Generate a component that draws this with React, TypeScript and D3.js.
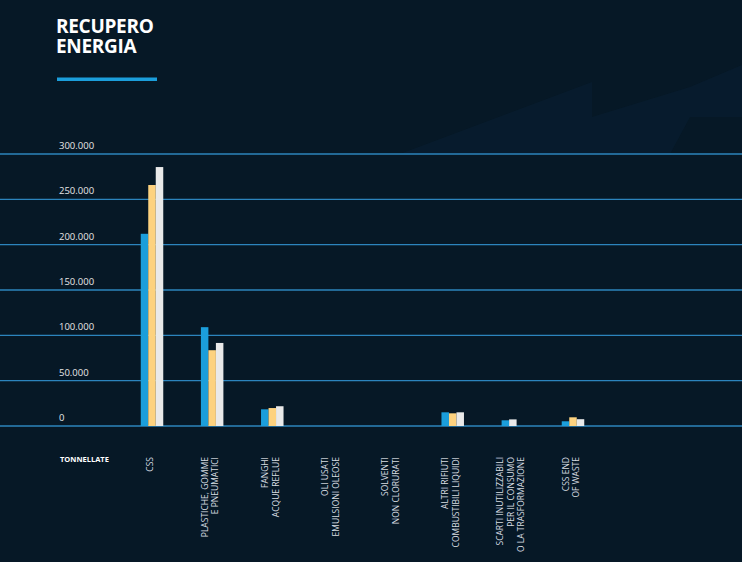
import { useEffect, useRef } from "react";
import * as d3 from "d3";

const CATEGORIES = [
  ["CSS"],
  ["PLASTICHE, GOMME", "E PNEUMATICI"],
  ["FANGHI", "ACQUE REFLUE"],
  ["OLI USATI", "EMULSIONI OLEOSE"],
  ["SOLVENTI", "NON CLORURATI"],
  ["ALTRI RIFIUTI", "COMBUSTIBILI LIQUIDI"],
  ["SCARTI INUTILIZZABILI", "PER IL CONSUMO", "O LA TRASFORMAZIONE"],
  ["CSS END", "OF WASTE"],
];

// tonnes per year, null = not reported
const SERIES_A: (number | null)[] = [212000, 109000, 18400, 0, 0, 15100, 6300, 5200];
const SERIES_B: (number | null)[] = [265800, 83600, 19800, 0, 0, 14000, null, 9600];
const SERIES_C: (number | null)[] = [285600, 91600, 21800, 0, 0, 15100, 7300, 7500];

const SERIES = [
  { key: "a", values: SERIES_A, color: "#1b9edb" },
  { key: "b", values: SERIES_B, color: "#fdd27f" },
  { key: "c", values: SERIES_C, color: "#e9e9e9" },
];

const Y_TICKS = [0, 50000, 100000, 150000, 200000, 250000, 300000];
const TITLE = ["RECUPERO", "ENERGIA"];

const W = 742, H = 562;
const BG = "#061826";

export default function App() {
  const svgRef = useRef<SVGSVGElement>(null);

  useEffect(() => {
    const svg = d3.select(svgRef.current);
    svg.selectAll("*").remove();

    svg.append("rect").attr("width", W).attr("height", H).attr("fill", BG);

    // faint backdrop shape, upper right
    svg.append("path")
      .attr("d", "M400,154 L592,82 L592,117 L690,87 L742,65 L742,117 L690,117 L670,154 Z")
      .attr("fill", "#0a1f33").attr("opacity", 0.55);

    // title, two lines in one text block
    const title = svg.append("text").attr("font-family", "'Open Sans', sans-serif").attr("font-weight", 700)
      .attr("fill", "#ffffff").attr("font-size", 19).attr("letter-spacing", -0.3);
    TITLE.forEach((l, i) => title.append("tspan").attr("x", 56).attr("y", 33 + i * 20).text(l));
    svg.append("rect").attr("x", 57).attr("y", 77.5).attr("width", 100).attr("height", 3.5).attr("fill", "#1b9edb");

    const y = d3.scaleLinear().domain([0, 300000]).range([426, 154]);
    const x = d3.scalePoint<number>().domain(CATEGORIES.map((_, i) => i)).range([152, 573]);
    const fmt = (v: number) => d3.format(",")(v).replace(/,/g, ".");

    // gridlines + tick labels
    const grid = svg.append("g");
    Y_TICKS.forEach(v => {
      grid.append("line").attr("x1", 0).attr("x2", W).attr("y1", y(v)).attr("y2", y(v))
        .attr("stroke", "#2c84bd").attr("stroke-width", 1.3);
      grid.append("text").attr("x", 59).attr("y", y(v) - 5)
        .attr("font-family", "'Open Sans', sans-serif").attr("font-size", 9.5)
        .attr("fill", "#e6e6e6").text(fmt(v));
    });

    // bars: series missing in a group are skipped and the rest packed together
    const barW = 7.5;
    const bars = svg.append("g");
    CATEGORIES.forEach((_, ci) => {
      const present = SERIES.filter(s => s.values[ci] !== null);
      const inner = d3.scaleBand<string>().domain(present.map(s => s.key))
        .range([-(barW * 3) / 2, -(barW * 3) / 2 + barW * present.length]);
      present.forEach(s => {
        const v = s.values[ci] as number;
        if (v <= 0) return;
        bars.append("rect")
          .attr("x", (x(ci) as number) + (inner(s.key) as number))
          .attr("y", y(v)).attr("width", inner.bandwidth()).attr("height", y(0) - y(v))
          .attr("fill", s.color);
      });
    });

    // category labels, rotated
    const labels = svg.append("g").attr("font-family", "'Liberation Sans Narrow', 'Open Sans', sans-serif")
      .attr("font-size", 8.5).attr("fill", "#d8dde2");
    CATEGORIES.forEach((lines, ci) => {
      const t = labels.append("text")
        .attr("transform", `translate(${(x(ci) as number) + 1},457) rotate(-90)`)
        .attr("text-anchor", "end");
      lines.forEach((l, li) => {
        t.append("tspan").attr("x", 0).attr("y", (li - (lines.length - 1) / 2) * 10.5).text(l);
      });
    });

    svg.append("text").attr("x", 60).attr("y", 462)
      .attr("font-family", "'Open Sans', sans-serif").attr("font-weight", 700)
      .attr("font-size", 7.5).attr("fill", "#ffffff").text("TONNELLATE");
  }, []);

  return (
    <svg ref={svgRef} width={W} height={H} style={{ position: "absolute", left: 0, top: 0, display: "block" }} />
  );
}
